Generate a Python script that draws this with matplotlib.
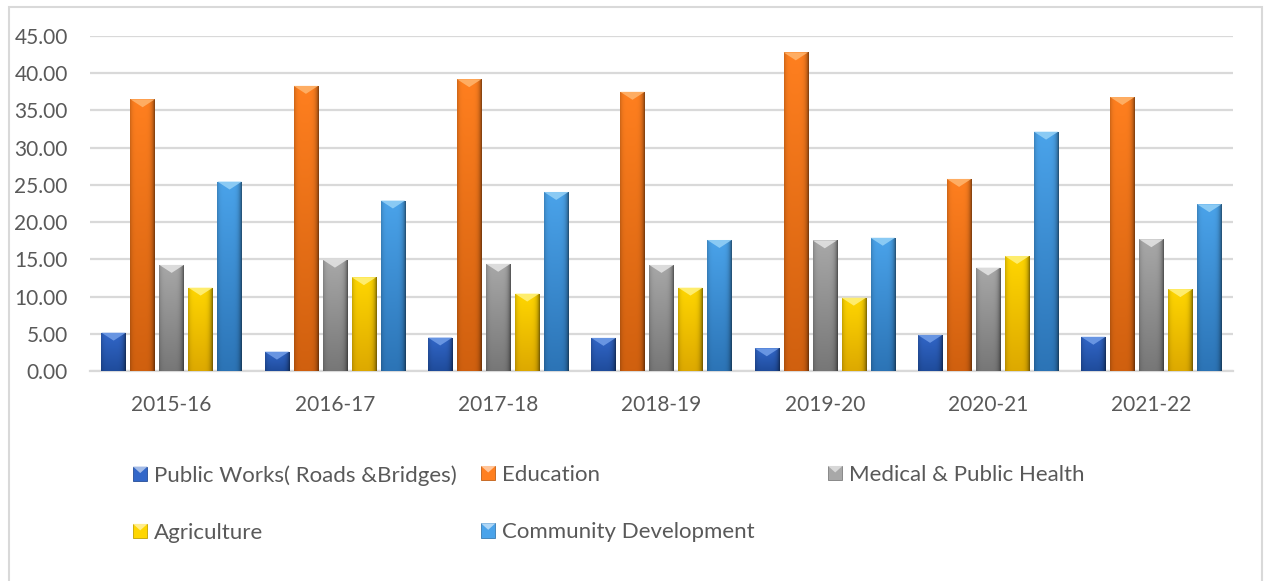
import numpy as np
import matplotlib
matplotlib.use("Agg")
import matplotlib.pyplot as plt
from matplotlib.patches import Rectangle, Polygon, Patch
from matplotlib.legend_handler import HandlerBase
from matplotlib.colors import to_rgb

plt.rcParams['font.family'] = ['Lato', 'DejaVu Sans']

years = ['2015-16', '2016-17', '2017-18', '2018-19', '2019-20', '2020-21', '2021-22']

public_works = [5.15, 2.60, 4.50, 4.45, 3.05, 4.85, 4.60]
education = [36.50, 38.30, 39.20, 37.50, 42.80, 25.80, 36.80]
medical = [14.25, 14.95, 14.40, 14.25, 17.55, 13.90, 17.70]
agriculture = [11.20, 12.60, 10.40, 11.20, 9.85, 15.45, 11.00]
community = [25.45, 22.90, 24.05, 17.60, 17.90, 32.15, 22.40]

series_names = ['Public Works( Roads &Bridges)', 'Education', 'Medical & Public Health',
                'Agriculture', 'Community Development']
series_values = [public_works, education, medical, agriculture, community]

# top colour, bottom colour, cap colour
palette = [
    ('#3267c9', '#1f4c9c', '#6f9be6'),
    ('#ff7f1f', '#d0600f', '#ffb36b'),
    ('#a8a8a8', '#777777', '#e2e2e2'),
    ('#ffd600', '#dda900', '#fff07a'),
    ('#4aa3ea', '#2c74b6', '#92cff6'),
]

text_col = '#595959'
grid_col = '#d9d9d9'


def bar_image(top, bottom):
    xs = np.linspace(0, 1, 24)
    ys = np.linspace(0, 1, 80)[:, None, None]
    top = np.array(to_rgb(top))
    bottom = np.array(to_rgb(bottom))
    img = bottom + (top - bottom) * ys
    shade = 1 - 0.28 * np.abs(2 * xs - 0.9) ** 5
    img = img * shade[None, :, None]
    return np.clip(img, 0, 1)


class BevelHandler(HandlerBase):
    def create_artists(self, legend, orig_handle, xdescent, ydescent,
                       width, height, fontsize, trans):
        size = min(width, height)
        x0 = -xdescent
        y0 = -ydescent + (height - size) / 2
        face = orig_handle.get_facecolor()
        light = [min(1, c * 0.45 + 0.55) for c in face[:3]]
        sq = Rectangle((x0, y0), size, size, facecolor=face,
                       edgecolor=[c * 0.75 for c in face[:3]], lw=0.6, transform=trans)
        cap = Polygon([(x0, y0 + size), (x0 + size, y0 + size),
                       (x0 + size / 2, y0 + size * 0.55)],
                      closed=True, facecolor=light, lw=0, transform=trans)
        return [sq, cap]


fig = plt.figure(figsize=(12.66, 5.81), dpi=100)
ax = fig.add_axes([90 / 1266, 1 - 371 / 581, 1143 / 1266, 335 / 581])

x = np.arange(len(years))
slot = 0.1776
width = 0.15
cap_h = 1.07

handles = []
for i, (name, vals) in enumerate(zip(series_names, series_values)):
    top, bottom, light = palette[i]
    pos = x + (i - 2) * slot
    bars = ax.bar(pos, vals, width, color=top, zorder=3, lw=0)
    img = bar_image(top, bottom)
    for b in bars:
        bx, bw, bh = b.get_x(), b.get_width(), b.get_height()
        im = ax.imshow(img, extent=[bx, bx + bw, 0, bh], origin='lower',
                       aspect='auto', zorder=3, interpolation='bilinear')
        im.set_clip_path(b)
        ax.add_patch(Polygon([(bx, bh), (bx + bw, bh), (bx + bw / 2, bh - cap_h)],
                             closed=True, facecolor=light, lw=0, zorder=4, alpha=0.9))
    handles.append(Patch(facecolor=to_rgb(top)))

ax.set_xlim(-0.5, len(years) - 0.5)
ax.set_ylim(0, 45)
ax.set_yticks(np.arange(0, 46, 5))
ax.set_yticklabels(['%.2f' % v for v in np.arange(0, 46, 5)])
ax.set_xticks(x)
ax.set_xticklabels(years)
ax.tick_params(axis='both', length=0, labelsize=15, colors=text_col)
ax.tick_params(axis='x', pad=17)
ax.tick_params(axis='y', pad=16)
ax.yaxis.grid(True, color=grid_col, lw=1.6, zorder=0)
ax.set_axisbelow(True)
for s in ['top', 'right', 'left']:
    ax.spines[s].set_visible(False)
ax.spines['bottom'].set_color(grid_col)
ax.spines['bottom'].set_linewidth(1.6)

# legend laid out as three fixed-width columns
columns = [([0, 3], 133), ([1, 4], 481), ([2], 828)]
for idx, xpix in columns:
    leg = fig.legend([handles[k] for k in idx], [series_names[k] for k in idx],
                     loc='upper left', bbox_to_anchor=(xpix / 1266, 1 - 465 / 581),
                     frameon=False, borderpad=0, borderaxespad=0, fontsize=16,
                     handlelength=0.65, handleheight=0.65, handletextpad=0.28,
                     labelspacing=1.68, labelcolor=text_col,
                     handler_map={Patch: BevelHandler()})

fig.add_artist(Rectangle((9 / 1266, -0.05), 1253 / 1266, 1.05 - 7 / 581,
                         transform=fig.transFigure, fill=False,
                         edgecolor=grid_col, lw=1.5))

fig.savefig('out.png', dpi=100, facecolor='white')
